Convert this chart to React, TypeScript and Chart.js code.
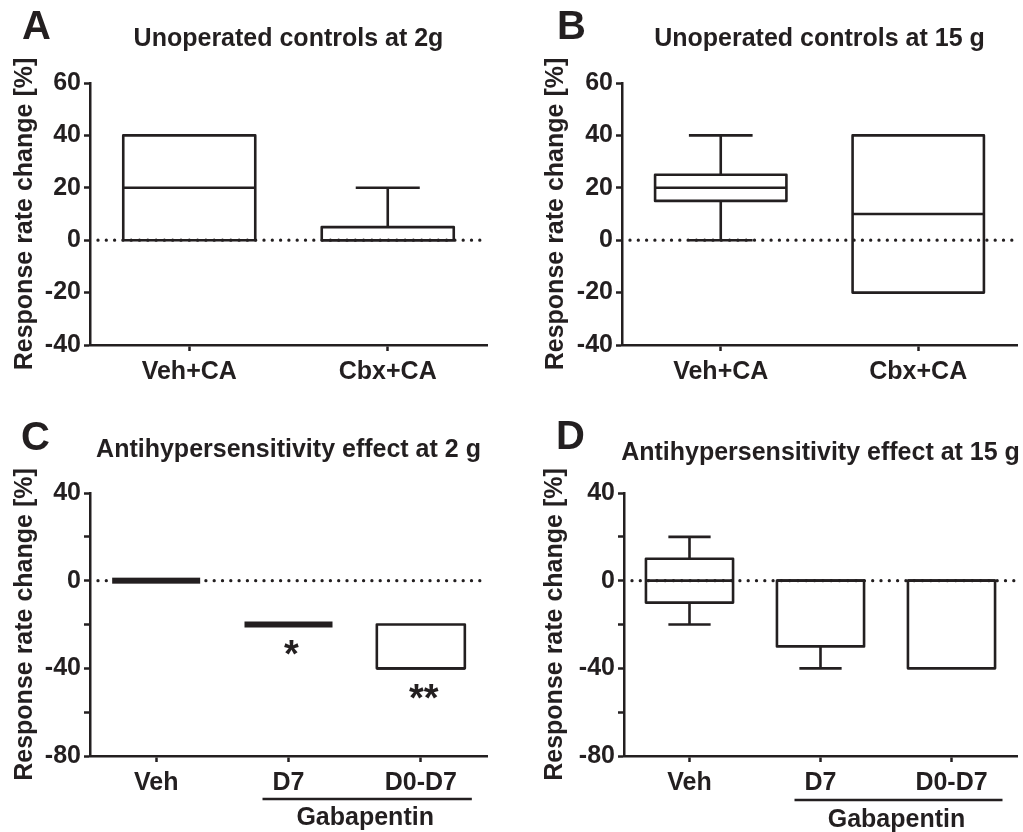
import React, { useEffect, useRef } from 'react';
import { Chart, registerables } from 'chart.js';

Chart.register(...registerables);

const INK = '#231f20';
const FONT = "'Liberation Sans', Arial, Helvetica, sans-serif";

// ---------- Data ----------
const catsAB = ['Veh+CA', 'Cbx+CA'];
const catsCD = ['Veh', 'D7', 'D0-D7'];

// Panel A: Unoperated controls at 2g
const aMin = [0, 0];
const aQ1 = [0, 0];
const aMed = [20, 0];
const aQ3 = [40, 5];
const aMax = [40, 20];

// Panel B: Unoperated controls at 15 g
const bMin = [0, -20];
const bQ1 = [15, -20];
const bMed = [20, 10];
const bQ3 = [25, 40];
const bMax = [40, 40];

// Panel C: Antihypersensitivity effect at 2 g
const cMin = [0, -20, -40];
const cQ1 = [0, -20, -40];
const cMed = [0, -20, -40];
const cQ3 = [0, -20, -20];
const cMax = [0, -20, -20];
const cStars = ['', '*', '**'];

// Panel D: Antihypersensitivity effect at 15 g
const dMin = [-20, -40, -40];
const dQ1 = [-10, -30, -40];
const dMed = [0, 0, 0];
const dQ3 = [10, 0, 0];
const dMax = [20, 0, 0];
const dStars = ['', '', ''];

const labeledTicksAB = [60, 40, 20, 0, -20, -40];
const labeledTicksCD = [40, 0, -40, -80];

const yTitle = 'Response rate change [%]';
const groupLabel = 'Gabapentin';

type Panel = {
  letter: string;
  title: string;
  cats: string[];
  min: number[];
  q1: number[];
  med: number[];
  q3: number[];
  max: number[];
  stars: string[];
  yMin: number;
  yMax: number;
  labeled: number[];
  pos: { left: number; top: number; w: number; h: number };
  area: { left: number; right: number; top: number; bottom: number };
  titleBase: number;
  letterX: number;
  letterBase: number;
  yTitlePad: number;
  group?: { lineY: number; textBase: number };
};

const panels: Panel[] = [
  {
    letter: 'A', title: 'Unoperated controls at 2g', cats: catsAB,
    min: aMin, q1: aQ1, med: aMed, q3: aQ3, max: aMax, stars: ['', ''],
    yMin: -40, yMax: 60, labeled: labeledTicksAB,
    pos: { left: 0, top: 0, w: 512, h: 416 },
    area: { left: 90, right: 487, top: 83, bottom: 345 },
    titleBase: 46, letterX: 22, letterBase: 39, yTitlePad: 10,
  },
  {
    letter: 'B', title: 'Unoperated controls at 15 g', cats: catsAB,
    min: bMin, q1: bQ1, med: bMed, q3: bQ3, max: bMax, stars: ['', ''],
    yMin: -40, yMax: 60, labeled: labeledTicksAB,
    pos: { left: 512, top: 0, w: 511, h: 416 },
    area: { left: 110, right: 505, top: 83, bottom: 345 },
    titleBase: 46, letterX: 45, letterBase: 39, yTitlePad: 29,
  },
  {
    letter: 'C', title: 'Antihypersensitivity effect at 2 g', cats: catsCD,
    min: cMin, q1: cQ1, med: cMed, q3: cQ3, max: cMax, stars: cStars,
    yMin: -80, yMax: 40, labeled: labeledTicksCD,
    pos: { left: 0, top: 416, w: 512, h: 416 },
    area: { left: 90, right: 487, top: 77, bottom: 340 },
    titleBase: 41, letterX: 21, letterBase: 34, yTitlePad: 10,
    group: { lineY: 383, textBase: 409 },
  },
  {
    letter: 'D', title: 'Antihypersensitivity effect at 15 g', cats: catsCD,
    min: dMin, q1: dQ1, med: dMed, q3: dQ3, max: dMax, stars: dStars,
    yMin: -80, yMax: 40, labeled: labeledTicksCD,
    pos: { left: 512, top: 416, w: 511, h: 416 },
    area: { left: 112, right: 505, top: 77, bottom: 340 },
    titleBase: 44, letterX: 44, letterBase: 33, yTitlePad: 28,
    group: { lineY: 384, textBase: 411 },
  },
];

function makePlugin(p: Panel) {
  return {
    id: 'boxplot' + p.letter,
    beforeDatasetsDraw(chart: any) {
      const { ctx, chartArea } = chart;
      const y = chart.scales.y;
      const y0 = y.getPixelForValue(0);
      ctx.save();
      ctx.strokeStyle = INK;
      ctx.lineWidth = 3.3;
      ctx.lineCap = 'round';
      ctx.setLineDash([0, 8.3]);
      ctx.beginPath();
      ctx.moveTo(chartArea.left + 8, y0);
      ctx.lineTo(chartArea.right, y0);
      ctx.stroke();
      ctx.restore();
    },
    afterDatasetsDraw(chart: any) {
      const { ctx } = chart;
      const y = chart.scales.y;
      const meta = chart.getDatasetMeta(0);
      ctx.save();
      ctx.strokeStyle = INK;
      ctx.fillStyle = INK;
      ctx.lineWidth = 2.6;
      ctx.lineJoin = 'round';
      meta.data.forEach((bar: any, i: number) => {
        const { x, width } = bar.getProps(['x', 'width'], true);
        const l = x - width / 2;
        const r = x + width / 2;
        const pq1 = y.getPixelForValue(p.q1[i]);
        const pq3 = y.getPixelForValue(p.q3[i]);
        const pmed = y.getPixelForValue(p.med[i]);
        const pmin = y.getPixelForValue(p.min[i]);
        const pmax = y.getPixelForValue(p.max[i]);
        const cap = width * 0.485;
        if (p.q1[i] === p.q3[i]) {
          ctx.fillRect(l, pq1 - 3, width, 6);
        } else {
          ctx.strokeRect(l, Math.min(pq1, pq3), width, Math.abs(pq1 - pq3));
          ctx.beginPath();
          ctx.moveTo(l, pmed);
          ctx.lineTo(r, pmed);
          ctx.stroke();
        }
        if (p.max[i] > p.q3[i]) {
          ctx.beginPath();
          ctx.moveTo(x, pq3);
          ctx.lineTo(x, pmax);
          ctx.moveTo(x - cap / 2, pmax);
          ctx.lineTo(x + cap / 2, pmax);
          ctx.stroke();
        }
        if (p.min[i] < p.q1[i]) {
          ctx.beginPath();
          ctx.moveTo(x, pq1);
          ctx.lineTo(x, pmin);
          ctx.moveTo(x - cap / 2, pmin);
          ctx.lineTo(x + cap / 2, pmin);
          ctx.stroke();
        }
        const star = p.stars[i];
        if (star) {
          ctx.font = `bold 38px ${FONT}`;
          ctx.textAlign = 'center';
          ctx.textBaseline = 'alphabetic';
          const m = ctx.measureText(star);
          const cy = Math.max(pmin, pq1) + 23;
          const base = cy + (m.actualBoundingBoxAscent - m.actualBoundingBoxDescent) / 2;
          ctx.fillText(star, x + 3, base);
        }
      });
      ctx.restore();
    },
    afterDraw(chart: any) {
      const { ctx, chartArea } = chart;
      ctx.save();
      ctx.fillStyle = INK;
      ctx.textBaseline = 'alphabetic';
      // title
      ctx.font = `bold 25px ${FONT}`;
      ctx.textAlign = 'center';
      ctx.fillText(p.title, (chartArea.left + chartArea.right) / 2, p.titleBase);
      // panel letter
      ctx.font = `bold 40px ${FONT}`;
      ctx.textAlign = 'left';
      ctx.fillText(p.letter, p.letterX, p.letterBase);
      // group bracket
      if (p.group) {
        const meta = chart.getDatasetMeta(0);
        const x1 = meta.data[1].x;
        const x2 = meta.data[2].x;
        const gl = x1 - 26;
        const gr = x2 + 51;
        ctx.strokeStyle = INK;
        ctx.lineWidth = 2.5;
        ctx.beginPath();
        ctx.moveTo(gl, p.group.lineY);
        ctx.lineTo(gr, p.group.lineY);
        ctx.stroke();
        ctx.font = `bold 25px ${FONT}`;
        ctx.textAlign = 'center';
        ctx.fillText(groupLabel, (gl + gr) / 2 - 2, p.group.textBase);
      }
      ctx.restore();
    },
  };
}

function PanelChart({ p }: { p: Panel }) {
  const ref = useRef<HTMLCanvasElement>(null);
  useEffect(() => {
    if (!ref.current) return;
    const font = { family: FONT, size: 25, weight: 'bold' as const };
    const chart = new Chart(ref.current, {
      type: 'bar',
      data: {
        labels: p.cats,
        datasets: [
          {
            data: p.q1.map((v, i) => [v, p.q3[i]]) as any,
            backgroundColor: 'rgba(0,0,0,0)',
            borderWidth: 0,
            barPercentage: 0.665,
            categoryPercentage: 1,
          },
        ],
      },
      options: {
        responsive: false,
        animation: false,
        events: [],
        layout: {
          padding: {
            left: 0,
            top: p.area.top,
            right: p.pos.w - p.area.right,
            bottom: 0,
          },
        },
        plugins: {
          legend: { display: false },
          tooltip: { enabled: false },
          title: { display: false },
        },
        scales: {
          x: {
            type: 'category',
            offset: true,
            grid: {
              display: true,
              offset: false,
              drawOnChartArea: false,
              drawTicks: true,
              tickLength: 6,
              tickWidth: 2.5,
              tickColor: INK,
            },
            border: { display: true, color: INK, width: 2.5 },
            ticks: { font, color: INK, padding: 6, maxRotation: 0, autoSkip: false },
            afterFit(s: any) {
              s.height = p.pos.h - p.area.bottom;
              s.paddingLeft = 0;
              s.paddingRight = 0;
            },
          },
          y: {
            type: 'linear',
            min: p.yMin,
            max: p.yMax,
            grid: {
              display: true,
              drawOnChartArea: false,
              drawTicks: true,
              tickLength: 6,
              tickWidth: 2.5,
              tickColor: INK,
            },
            border: { display: true, color: INK, width: 2.5 },
            ticks: {
              stepSize: 20,
              font,
              color: INK,
              padding: 3,
              autoSkip: false,
              callback: (v: any) => (p.labeled.includes(Number(v)) ? String(v) : ''),
            },
            title: {
              display: true,
              text: yTitle,
              color: INK,
              font,
              padding: { top: p.yTitlePad, bottom: 0 },
            },
            afterFit(s: any) {
              s.width = p.area.left;
              s.paddingTop = 0;
              s.paddingBottom = 0;
            },
          },
        },
      },
      plugins: [makePlugin(p)],
    });
    return () => chart.destroy();
  }, [p]);
  return (
    <canvas
      ref={ref}
      width={p.pos.w}
      height={p.pos.h}
      style={{
        position: 'absolute',
        left: p.pos.left,
        top: p.pos.top,
        width: p.pos.w,
        height: p.pos.h,
        display: 'block',
      }}
    />
  );
}

export default function App() {
  return (
    <div
      style={{
        position: 'fixed',
        left: 0,
        top: 0,
        width: 1023,
        height: 832,
        background: '#ffffff',
        overflow: 'hidden',
      }}
    >
      {panels.map((p) => (
        <PanelChart key={p.letter} p={p} />
      ))}
    </div>
  );
}
